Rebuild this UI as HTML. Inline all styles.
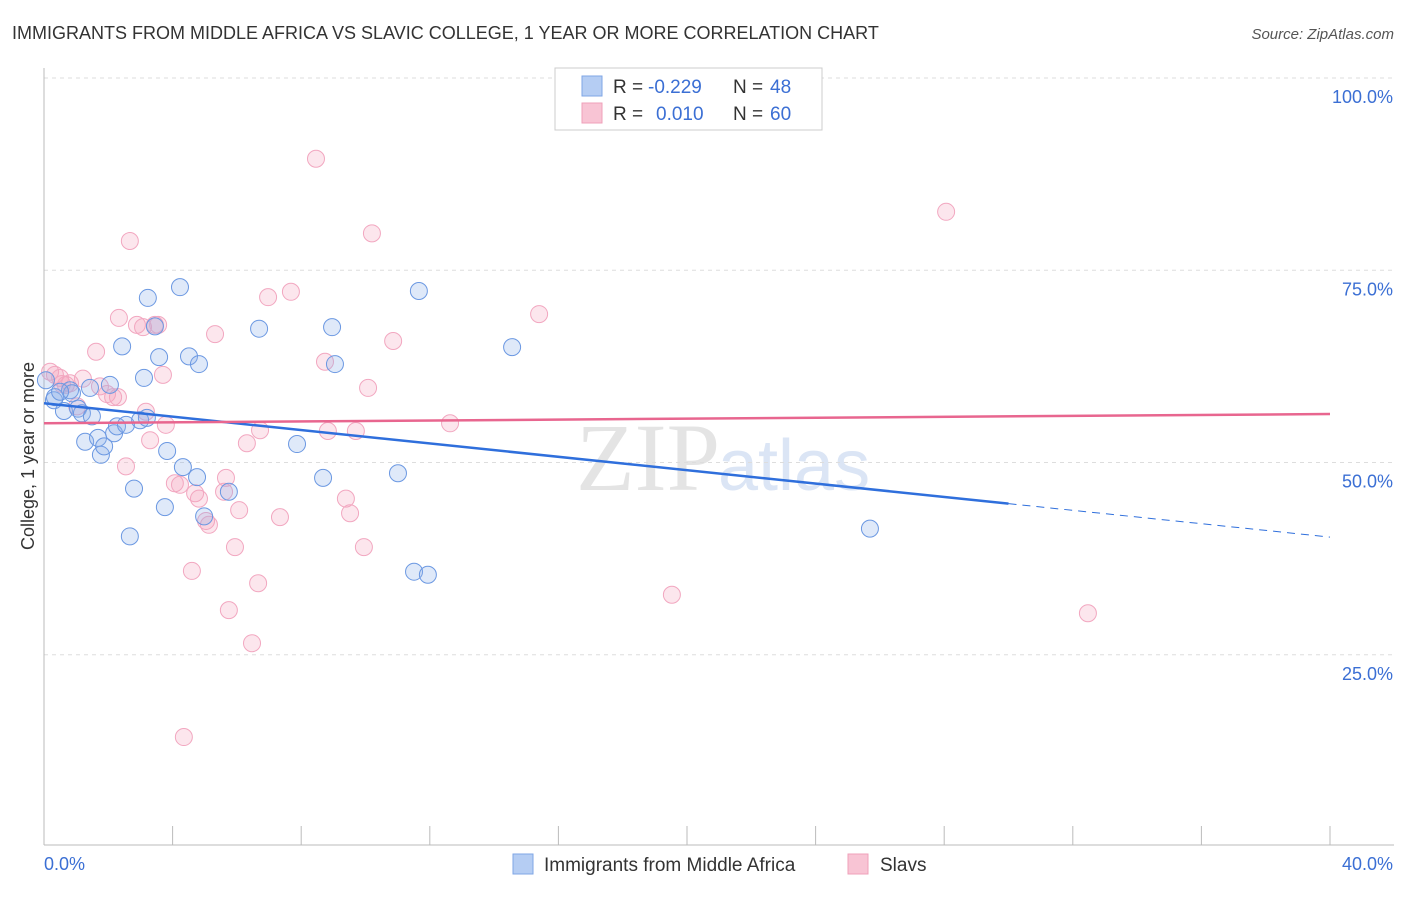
<!DOCTYPE html>
<html><head><meta charset="utf-8"><style>
body{margin:0;background:#fff;font-family:"Liberation Sans",sans-serif}
</style></head><body>
<svg id="c" width="1406" height="892" xmlns="http://www.w3.org/2000/svg">
<text x="12" y="39" font-size="18" fill="#333">IMMIGRANTS FROM MIDDLE AFRICA VS SLAVIC COLLEGE, 1 YEAR OR MORE CORRELATION CHART</text>
<text x="1394" y="39" font-size="15" fill="#555" font-style="italic" text-anchor="end">Source: ZipAtlas.com</text>
<text x="720" y="490" font-size="96" fill="#e4e4e4" text-anchor="end" font-family="Liberation Serif">ZIP</text>
<text x="718" y="490" font-size="72" fill="#dbe5f5">atlas</text>
<g id="grid"></g><g id="pts"></g><g id="lines"></g>
<text x="34" y="456" font-size="18" fill="#333" text-anchor="middle" transform="rotate(-90 34 456)">College, 1 year or more</text>
<text x="44" y="870" font-size="18" fill="#3b6fd4">0.0%</text>
<text x="1393" y="870" font-size="18" fill="#3b6fd4" text-anchor="end">40.0%</text>
<g>
<rect x="555" y="68" width="267" height="62" fill="#fff" stroke="#ccc"/>
<rect x="582" y="76" width="20" height="20" fill="#b5cdf3" stroke="#7fa6e6"/>
<rect x="582" y="103" width="20" height="20" fill="#f8c4d4" stroke="#efa0ba"/>
<text y="93" font-size="19" fill="#333"><tspan x="613">R =</tspan><tspan x="648" fill="#3b6fd4">-0.229</tspan><tspan x="733">N =</tspan><tspan x="770" fill="#3b6fd4">48</tspan></text>
<text y="120" font-size="19" fill="#333"><tspan x="613">R =</tspan><tspan x="656" fill="#3b6fd4">0.010</tspan><tspan x="733">N =</tspan><tspan x="770" fill="#3b6fd4">60</tspan></text>
</g>
<g>
<rect x="513" y="854" width="20" height="20" fill="#b5cdf3" stroke="#7fa6e6"/>
<text x="544" y="871" font-size="19" fill="#333">Immigrants from Middle Africa</text>
<rect x="848" y="854" width="20" height="20" fill="#f8c4d4" stroke="#efa0ba"/>
<text x="880" y="871" font-size="19" fill="#333">Slavs</text>
</g>
</svg>
<script>
const yTicks=[25,50,75,100];
const yTickLabels=["25.0%","50.0%","75.0%","100.0%"];
const blueX=[0.31,0.34,0.62,0.81,0.87,1.06,1.18,1.43,1.49,1.28,1.68,1.77,1.87,2.05,2.18,2.27,2.43,2.55,2.80,2.67,2.99,3.11,3.20,3.23,3.45,3.58,3.76,3.83,4.23,4.32,4.51,4.76,4.82,4.98,5.75,6.69,7.87,8.68,8.96,9.05,11.01,11.51,11.66,11.94,14.56,25.69,0.06,0.50];
const blueY=[58.1,58.5,56.7,59.4,59.0,57.0,56.4,59.7,56.0,52.7,53.2,51.0,52.1,60.1,53.8,54.7,65.1,54.9,46.6,40.4,55.5,61.0,55.8,71.4,67.7,63.7,44.2,51.5,72.8,49.4,63.8,48.1,62.8,43.0,46.2,67.4,52.4,48.0,67.6,62.8,48.6,35.8,72.3,35.4,65.0,41.4,60.7,59.2];
const pinkX=[0.19,0.34,0.50,0.68,0.81,1.03,1.21,1.62,1.74,1.96,2.15,2.33,2.55,2.67,2.89,3.08,3.17,3.30,3.45,3.55,3.70,3.79,4.07,4.23,4.35,4.60,4.70,4.82,5.04,5.13,5.32,5.60,5.66,5.75,5.94,6.07,6.31,6.47,6.66,6.72,6.97,7.34,7.68,8.46,8.74,8.83,9.39,9.52,9.70,9.95,10.08,10.20,10.86,12.63,15.40,19.53,28.06,32.47,2.30,0.56];
const pinkY=[61.8,61.4,61.0,60.1,60.3,57.3,60.9,64.4,59.9,58.9,58.5,68.8,49.5,78.8,67.9,67.6,56.6,52.9,67.9,67.9,61.4,54.9,47.3,47.1,14.3,35.9,46.0,45.3,42.4,41.9,66.7,46.2,48.0,30.8,39.0,43.8,52.5,26.5,34.3,54.2,71.5,42.9,72.2,89.5,63.1,54.1,45.3,43.4,54.1,39.0,59.7,79.8,65.8,55.1,69.3,32.8,82.6,30.4,58.5,60.2];
const blueTrend=[57.7,40.3], blueSolidEnd=30;
const pinkTrend=[55.1,56.3];
const X=v=>44+v*32.15, Y=v=>847-v*7.69;
const NS="http://www.w3.org/2000/svg";
function mk(t,a,p){const e=document.createElementNS(NS,t);for(const k in a)e.setAttribute(k,a[k]);p.appendChild(e);return e;}
const g=document.getElementById('grid');
yTicks.forEach((t,i)=>{
 const l=mk('line',{x1:44,x2:1394,y1:Y(t),y2:Y(t),stroke:'#ddd','stroke-dasharray':'4,4'},g);
 
 
 const tx=mk('text',{x:1393,y:Y(t)+25,'font-size':18,fill:'#3b6fd4','text-anchor':'end'},g);
 tx.textContent=yTickLabels[i];
 
 
});
const ax=mk('line',{x1:44,x2:44,y1:68,y2:845,stroke:'#bbb'},g);


const bx=mk('line',{x1:44,x2:1394,y1:845,y2:845,stroke:'#bbb'},g);


for(let i=1;i<=10;i++){const t=mk('line',{x1:X(i*4),x2:X(i*4),y1:826,y2:845,stroke:'#bbb'},g);
 
 }
const p=document.getElementById('pts');
function pts(xs,ys,f,s,n){xs.forEach((x,i)=>{const c=mk('circle',{cx:X(x),cy:Y(ys[i]),r:8.5,fill:f,stroke:s,'stroke-width':1},p);
 
 });}
pts(pinkX,pinkY,'rgba(245,165,192,0.28)','#f2a7c0','slavs-point');
pts(blueX,blueY,'rgba(140,175,235,0.28)','#6b98e2','middle-africa-point');
const L=document.getElementById('lines');
const by=x=>blueTrend[0]+(blueTrend[1]-blueTrend[0])*x/40;
const b1=mk('line',{x1:X(0),y1:Y(by(0)),x2:X(blueSolidEnd),y2:Y(by(blueSolidEnd)),stroke:'#2f6fdc','stroke-width':2.5},L);


const b2=mk('line',{x1:X(blueSolidEnd),y1:Y(by(blueSolidEnd)),x2:X(40),y2:Y(by(40)),stroke:'#2f6fdc','stroke-width':1,'stroke-dasharray':'8,6'},L);


const pl=mk('line',{x1:X(0),y1:Y(pinkTrend[0]),x2:X(40),y2:Y(pinkTrend[1]),stroke:'#e8668f','stroke-width':2.5},L);


</script>
</body></html>
